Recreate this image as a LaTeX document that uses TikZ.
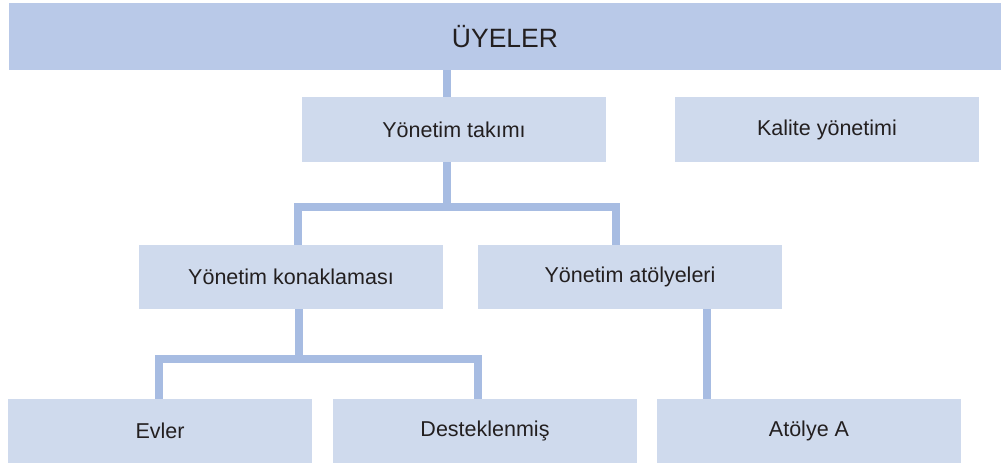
\documentclass[tikz,border=0pt]{standalone}
\usepackage{fontspec}
\setmainfont{Liberation Sans}
\definecolor{barfill}{HTML}{B9C9E8}
\definecolor{boxfill}{HTML}{CFDAED}
\definecolor{linecol}{HTML}{A7BCE2}
\definecolor{txt}{HTML}{231F20}
\begin{document}
\begin{tikzpicture}[x=1pt,y=-1pt,
  box/.style={fill=boxfill,draw=none,minimum width=304pt,minimum height=65pt,inner sep=0pt,text=txt,font=\fontsize{21.5}{25}\selectfont},
  conn/.style={draw=linecol,line width=8pt,line join=miter,line cap=butt}]
\useasboundingbox (0,0) rectangle (1001,468);
\node[box,fill=barfill,minimum width=992pt,minimum height=67pt,font=\fontsize{26.5}{30}\selectfont] (uye) at (505,36.5) {ÜYELER};
\node[box] (takim) at (454,129.5) {Yönetim takımı};
\node[box] (kalite) at (827,129.5) {Kalite yönetimi};
\node[box,minimum height=64pt] (konak) at (291,277) {Yönetim konaklaması};
\node[box,minimum height=64pt] (atoly) at (630,277) {Yönetim atölyeleri};
\node[box,minimum height=64pt] (evler) at (160,431) {Evler};
\node[box,minimum height=64pt] (destek) at (485,431) {Desteklenmiş};
\node[box,minimum height=64pt] (atolA) at (809,431) {Atölye A};
\coordinate (bus1) at (447,207);
\coordinate (bus2) at (299,358.5);
\draw[conn] ([xshift=-7pt]takim.north |- uye.south) -- ([xshift=-7pt]takim.north);
\draw[conn] ([xshift=-7pt]takim.south) -- (bus1);
\draw[conn] ([xshift=7pt]konak.north) |- (bus1) -| ([xshift=-14pt]atoly.north);
\draw[conn] ([xshift=8pt]konak.south) -- (bus2);
\draw[conn] ([xshift=-1pt]evler.north) |- (bus2) -| ([xshift=-7.5pt]destek.north);
\draw[conn] ([xshift=77pt]atoly.south) -- ([xshift=77pt]atoly.south |- atolA.north);
\end{tikzpicture}
\end{document}
